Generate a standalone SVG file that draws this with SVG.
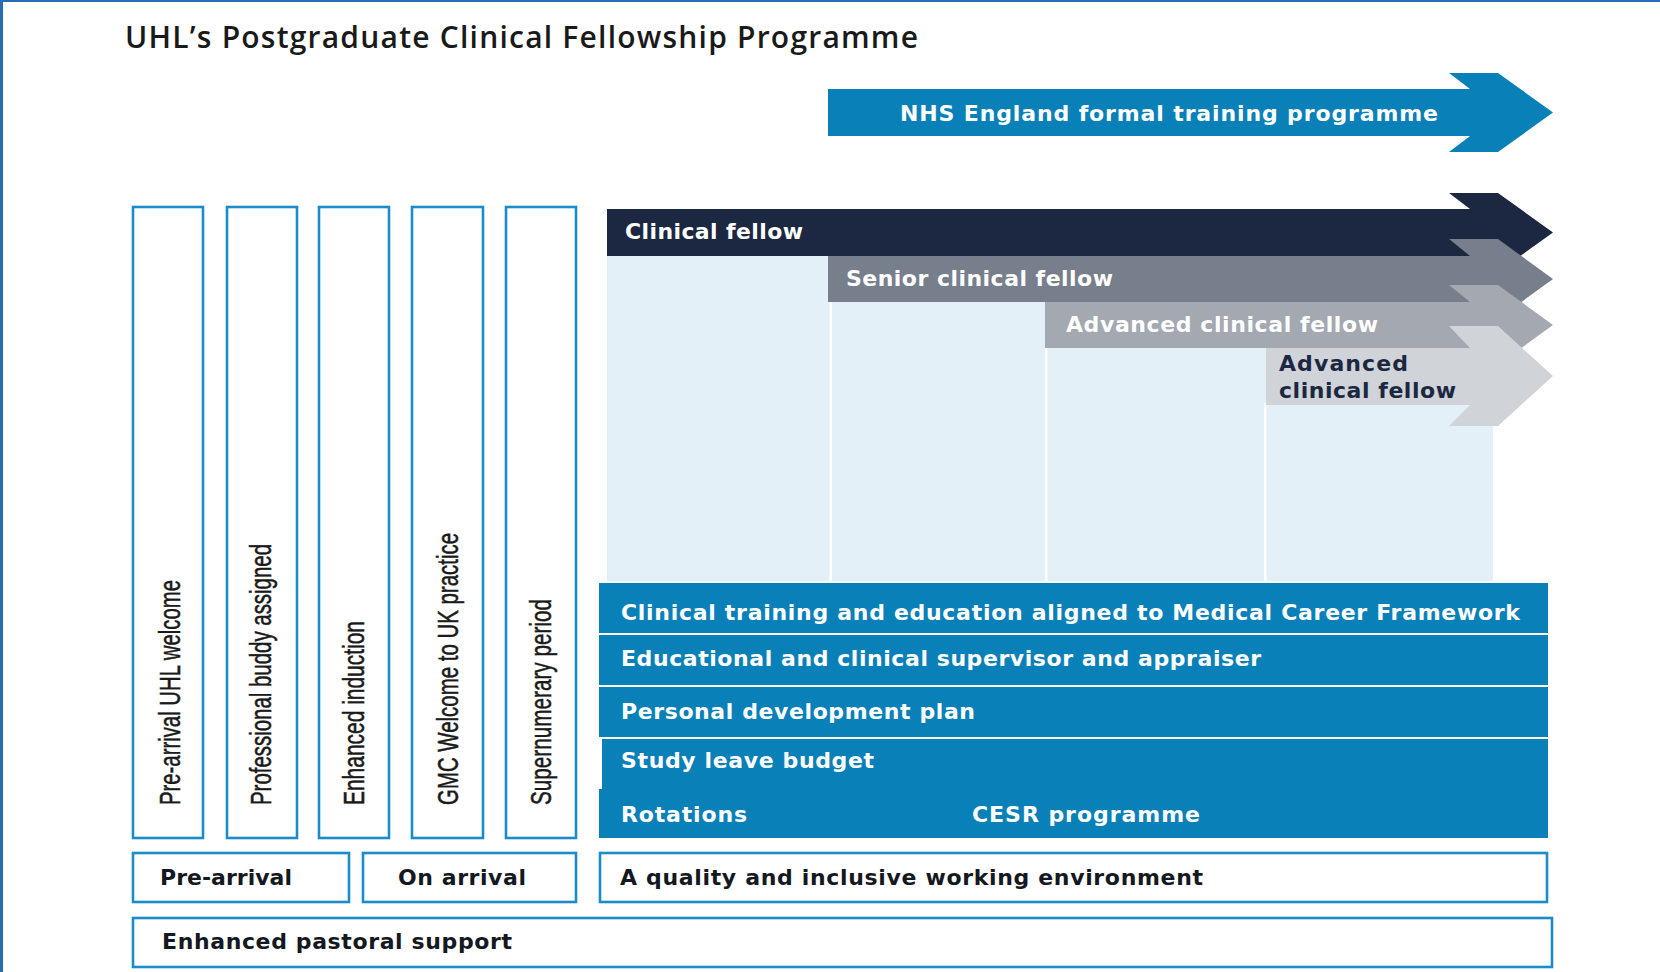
<svg xmlns="http://www.w3.org/2000/svg" width="1660" height="972" viewBox="0 0 1660 972">
  <style>
    .title { font-family: "Open Sans", "Liberation Sans", sans-serif; font-weight: 600; font-size: 30px; fill: #1a1a1a; }
    .lbl { font-family: "DejaVu Sans", "Open Sans", sans-serif; font-weight: 700; font-size: 22px; }
    .white { fill: #ffffff; }
    .dark { fill: #141821; }
    .navy { fill: #1c2741; }
    .vert { font-family: "Liberation Sans", "Open Sans", sans-serif; font-size: 29px; fill: #1a1a1a; stroke: #1a1a1a; stroke-width: 0.5; }
    .outline { fill: #ffffff; stroke: #1b8cca; stroke-width: 2.6; }
    .bar { fill: #0a80b9; }
    .frame { fill: #2a6cb4; }
  </style>

  <!-- page frame -->
  <rect class="frame" x="0" y="0" width="1660" height="2"/>
  <rect class="frame" x="0" y="0" width="3" height="972"/>

  <!-- heading -->
  <text class="title" x="125" y="48" textLength="793">UHL’s Postgraduate Clinical Fellowship Programme</text>

  <!-- formal training programme arrow -->
  <g id="nhs-programme">
    <polygon fill="#0a80b9" points="828,89 1470,89 1449,73 1498,73 1553,112.5 1498,152 1449,152 1470,136 828,136"/>
    <text class="lbl white" x="900" y="120.5" textLength="538">NHS England formal training programme</text>
  </g>

  <!-- light background columns for the career grades -->
  <g id="grade-columns">
    <rect x="607" y="256" width="886" height="325" fill="#e3f0f7"/>
    <rect x="829.5" y="300" width="2.5" height="281" fill="#ffffff"/>
    <rect x="1045" y="346" width="2.5" height="235" fill="#ffffff"/>
    <rect x="1264" y="403" width="2.5" height="178" fill="#ffffff"/>
  </g>

  <!-- career grade arrows -->
  <g id="clinical-fellow">
    <polygon fill="#1c2741" points="607,209 1470,209 1449,193 1498,193 1553,232.5 1498,272 1449,272 1470,256 607,256"/>
    <text class="lbl white" x="625" y="239" textLength="178">Clinical fellow</text>
  </g>
  <g id="senior-clinical-fellow">
    <polygon fill="#777e8c" points="828,256 1470,256 1449,239 1498,239 1553,279 1498,319 1449,319 1470,302 828,302"/>
    <text class="lbl white" x="846" y="286" textLength="267">Senior clinical fellow</text>
  </g>
  <g id="advanced-clinical-fellow">
    <polygon fill="#a3a8b1" points="1045,302 1470,302 1449,285 1498,285 1553,325 1498,365 1449,365 1470,348 1045,348"/>
    <text class="lbl white" x="1066" y="332" textLength="312">Advanced clinical fellow</text>
  </g>
  <g id="advanced-clinical-fellow-2">
    <polygon fill="#d0d3d8" points="1266,348 1470,348 1449,326 1498,326 1553,376 1498,426 1449,426 1470,405 1266,405"/>
    <text class="lbl navy" x="1279" y="371" textLength="129">Advanced</text>
    <text class="lbl navy" x="1279" y="398" textLength="177">clinical fellow</text>
  </g>

  <!-- vertical onboarding stages -->
  <g id="pre-arrival-welcome">
    <rect class="outline" x="133" y="207" width="70" height="631"/>
    <text class="vert" transform="translate(180,805) rotate(-90)" textLength="225" lengthAdjust="spacingAndGlyphs">Pre-arrival UHL welcome</text>
  </g>
  <g id="buddy-assigned">
    <rect class="outline" x="227" y="207" width="70" height="631"/>
    <text class="vert" transform="translate(271,805) rotate(-90)" textLength="261" lengthAdjust="spacingAndGlyphs">Professional buddy assigned</text>
  </g>
  <g id="enhanced-induction">
    <rect class="outline" x="319" y="207" width="70" height="631"/>
    <text class="vert" transform="translate(364,805) rotate(-90)" textLength="184" lengthAdjust="spacingAndGlyphs">Enhanced induction</text>
  </g>
  <g id="gmc-welcome">
    <rect class="outline" x="412" y="207" width="71" height="631"/>
    <text class="vert" transform="translate(458,805) rotate(-90)" textLength="272" lengthAdjust="spacingAndGlyphs">GMC Welcome to UK practice</text>
  </g>
  <g id="supernumerary-period">
    <rect class="outline" x="506" y="207" width="70" height="631"/>
    <text class="vert" transform="translate(551,805) rotate(-90)" textLength="206" lengthAdjust="spacingAndGlyphs">Supernumerary period</text>
  </g>

  <!-- programme features -->
  <g id="training-education">
    <rect class="bar" x="599" y="583" width="949" height="50"/>
    <text class="lbl white" x="621" y="620" textLength="899">Clinical training and education aligned to Medical Career Framework</text>
  </g>
  <g id="supervisor-appraiser">
    <rect class="bar" x="599" y="635" width="949" height="50"/>
    <text class="lbl white" x="621" y="666" textLength="640">Educational and clinical supervisor and appraiser</text>
  </g>
  <g id="development-plan">
    <rect class="bar" x="599" y="687" width="949" height="50"/>
    <text class="lbl white" x="621" y="719" textLength="354">Personal development plan</text>
  </g>
  <g id="study-rotations-cesr">
    <rect class="bar" x="602" y="739" width="946" height="52"/>
    <rect class="bar" x="599" y="789" width="949" height="49"/>
    <text class="lbl white" x="621" y="768" textLength="253">Study leave budget</text>
    <text class="lbl white" x="621" y="822" textLength="126">Rotations</text>
    <text class="lbl white" x="972" y="822" textLength="228">CESR programme</text>
  </g>

  <!-- bottom bands -->
  <g id="pre-arrival">
    <rect class="outline" x="133" y="853" width="216" height="49"/>
    <text class="lbl dark" x="160" y="885" textLength="132">Pre-arrival</text>
  </g>
  <g id="on-arrival">
    <rect class="outline" x="363" y="853" width="213" height="49"/>
    <text class="lbl dark" x="398" y="885" textLength="128">On arrival</text>
  </g>
  <g id="working-environment">
    <rect class="outline" x="600" y="853" width="947" height="49"/>
    <text class="lbl dark" x="620" y="885" textLength="583">A quality and inclusive working environment</text>
  </g>
  <g id="pastoral-support">
    <rect class="outline" x="133" y="918" width="1419" height="49"/>
    <text class="lbl dark" x="162" y="949" textLength="350">Enhanced pastoral support</text>
  </g>

  <!-- the diagram has no connector lines -->
  <g id="connectors"/>
</svg>
